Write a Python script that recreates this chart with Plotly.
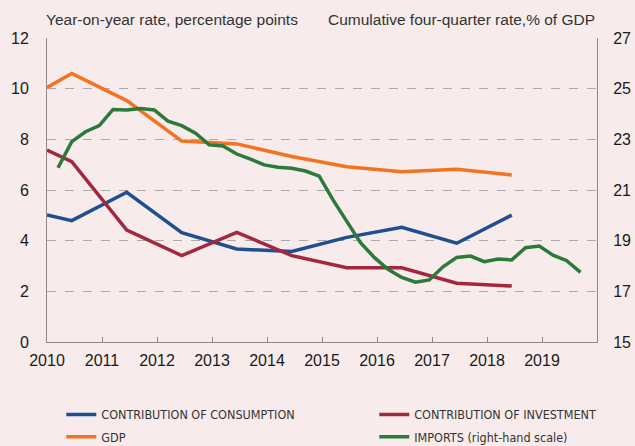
import plotly.graph_objects as go

# Annual-type series (first point at start of 2010, then mid-year points)
annual_x = [2010.0, 2010.45, 2011.45, 2012.45, 2013.45, 2014.45, 2015.45, 2016.45, 2017.45, 2018.45]
consumption = [5.01, 4.79, 5.91, 4.32, 3.67, 3.57, 4.13, 4.53, 3.90, 5.01]
investment = [7.58, 7.12, 4.42, 3.41, 4.33, 3.41, 2.93, 2.93, 2.32, 2.21]
gdp = [10.05, 10.6, 9.53, 7.93, 7.82, 7.32, 6.92, 6.72, 6.82, 6.59]

# Quarterly imports (right-hand scale), 2010 Q1 .. 2019 Q3
imports = [21.88, 22.91, 23.30, 23.54, 24.18, 24.16, 24.22, 24.16, 23.72, 23.54,
           23.24, 22.78, 22.74, 22.42, 22.22, 21.99, 21.90, 21.86, 21.75, 21.55,
           20.61, 19.79, 18.92, 18.34, 17.87, 17.55, 17.36, 17.45, 17.97, 18.34,
           18.39, 18.17, 18.28, 18.24, 18.72, 18.79, 18.43, 18.21, 17.75]
quarter_x = [2010.2 + 0.25 * i for i in range(len(imports))]

years = list(range(2010, 2021))
year_labels = [str(y) for y in range(2010, 2020)] + [""]
left_ticks = [0, 2, 4, 6, 8, 10, 12]
right_ticks = [15, 17, 19, 21, 23, 25, 27]

BG = "#F7EBEB"
AX = "#8A8A8A"
FONT = "Liberation Sans, Arial, sans-serif"
COND = "DejaVu Sans Condensed, Liberation Sans, sans-serif"

fig = go.Figure()
fig.add_trace(go.Scatter(x=annual_x, y=consumption, name="CONTRIBUTION OF CONSUMPTION",
                         mode="lines", line=dict(color="#1D4F91", width=3.5),
                         legend="legend", legendgroup="a"))
fig.add_trace(go.Scatter(x=annual_x, y=gdp, name="GDP",
                         mode="lines", line=dict(color="#F47321", width=3.5),
                         legend="legend", legendgroup="b"))
fig.add_trace(go.Scatter(x=annual_x, y=investment, name="CONTRIBUTION OF INVESTMENT",
                         mode="lines", line=dict(color="#A3283F", width=3.5),
                         legend="legend2", legendgroup="c"))
fig.add_trace(go.Scatter(x=quarter_x, y=imports, name="IMPORTS (right-hand scale)",
                         mode="lines", line=dict(color="#2B7A3B", width=3.5), yaxis="y2",
                         legend="legend2", legendgroup="d"))

legend_common = dict(orientation="v", yanchor="top", y=-0.19, xref="paper", yref="paper",
                     bgcolor="rgba(0,0,0,0)", tracegroupgap=3,
                     font=dict(family=COND, size=12.5, color="#333333"))

fig.update_layout(
    width=635, height=446,
    paper_bgcolor=BG, plot_bgcolor=BG,
    margin=dict(l=47, r=38, t=38, b=104, autoexpand=False),
    font=dict(family=FONT, size=16, color="#1a1a1a"),
    xaxis=dict(range=[2010, 2020], tickmode="array", tickvals=years, ticktext=year_labels,
               showgrid=False, zeroline=False, showline=True, linecolor=AX, linewidth=1,
               ticks="inside", ticklen=5, tickcolor=AX, ticklabelstandoff=4),
    yaxis=dict(range=[0, 12], tickmode="array", tickvals=left_ticks,
               showgrid=True, gridcolor="#ABABAB", griddash="dash", gridwidth=1,
               zeroline=False, showline=True, linecolor=AX, linewidth=1,
               ticklabelstandoff=14),
    yaxis2=dict(range=[15, 27], tickmode="array", tickvals=right_ticks, overlaying="y",
                side="right", showgrid=False, zeroline=False, showline=True,
                linecolor=AX, linewidth=1, ticklabelstandoff=12),
    legend=dict(x=0.026, **legend_common),
    legend2=dict(x=0.595, **legend_common),
    showlegend=True,
)

fig.add_annotation(text="Year-on-year rate, percentage points", xref="paper", yref="paper",
                   x=-0.005, y=1.0, yshift=19, xanchor="left", yanchor="middle",
                   showarrow=False, font=dict(family=FONT, size=15.5, color="#333333"))
fig.add_annotation(text="Cumulative four-quarter rate,% of GDP", xref="paper", yref="paper",
                   x=1.0, y=1.0, yshift=19, xanchor="right", yanchor="middle",
                   showarrow=False, font=dict(family=FONT, size=15.5, color="#333333"))

fig.write_html("out.html", config={"displayModeBar": False},
               post_script="document.body.style.margin='0';"
                           "document.body.style.background='%s';" % BG)
